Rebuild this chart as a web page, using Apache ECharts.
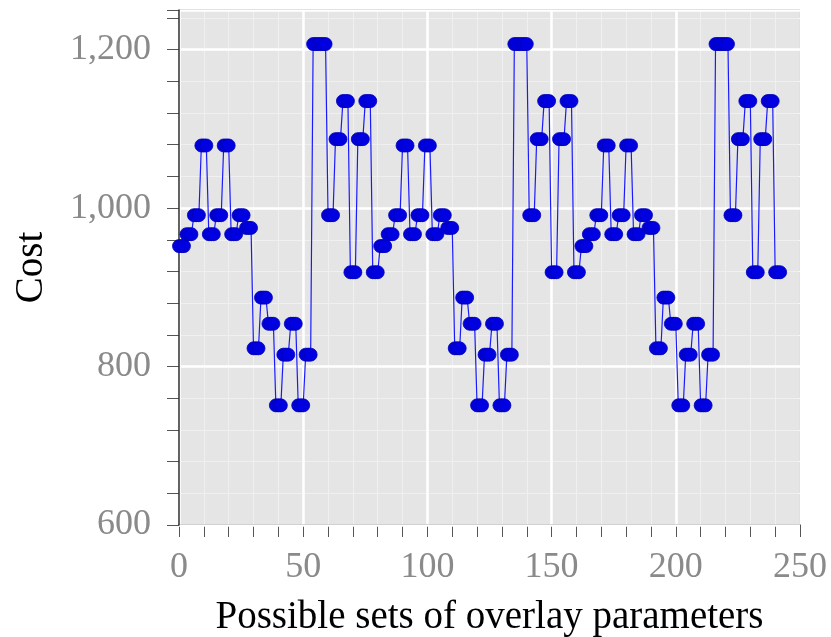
<!DOCTYPE html>
<html>
<head>
<meta charset="utf-8">
<script src="https://cdn.jsdelivr.net/npm/echarts@6/dist/echarts.min.js"></script>
<style>
  html, body { margin: 0; padding: 0; background: #fff; }
  #main { width: 831px; height: 637px; }
</style>
</head>
<body>
<div id="main"></div>
<script>
const chart = echarts.init(document.getElementById("main"));

// cost for each parameter set (3 periods of 81 sets)
const costA = [
    952, 952, 952, 967, 967, 967, 991, 991, 991, 1079, 1079, 1079, 967, 967, 967, 991, 991, 991, 1079, 1079, 1079, 967, 967, 967, 991, 991, 991,
    975, 975, 975, 823, 823, 823, 887, 887, 887, 854, 854, 854, 751, 751, 751, 815, 815, 815, 854, 854, 854, 751, 751, 751, 815, 815, 815,
    1207, 1207, 1207, 1207, 1207, 1207, 991, 991, 991, 1087, 1087, 1087, 1135, 1135, 1135, 919, 919, 919, 1087, 1087, 1087, 1135, 1135, 1135, 919, 919, 919
];
const costB = [
    952, 952, 952, 967, 967, 967, 991, 991, 991, 1079, 1079, 1079, 967, 967, 967, 991, 991, 991, 1079, 1079, 1079, 967, 967, 967, 991, 991, 991,
    975, 975, 975, 823, 823, 823, 887, 887, 887, 854, 854, 854, 751, 751, 751, 815, 815, 815, 854, 854, 854, 751, 751, 751, 815, 815, 815,
    1207, 1207, 1207, 1207, 1207, 1207, 991, 991, 991, 1087, 1087, 1087, 1135, 1135, 1135, 919, 919, 919, 1087, 1087, 1087, 1135, 1135, 1135, 919, 919, 919
];
const costC = [
    952, 952, 952, 967, 967, 967, 991, 991, 991, 1079, 1079, 1079, 967, 967, 967, 991, 991, 991, 1079, 1079, 1079, 967, 967, 967, 991, 991, 991,
    975, 975, 975, 823, 823, 823, 887, 887, 887, 854, 854, 854, 751, 751, 751, 815, 815, 815, 854, 854, 854, 751, 751, 751, 815, 815, 815,
    1207, 1207, 1207, 1207, 1207, 1207, 991, 991, 991, 1087, 1087, 1087, 1135, 1135, 1135, 919, 919, 919, 1087, 1087, 1087, 1135, 1135, 1135, 919, 919, 919
];
const yLabels = [600, 800, 1000, 1200];
const xLabels = [0, 50, 100, 150, 200, 250];

const cost = costA.concat(costB, costC);
const points = cost.map((v, i) => [i, v]);

const serif = "Liberation Serif";
const labelStyle = { color: "#8a8a8a", fontFamily: serif, fontSize: 36 };
const nameStyle = { color: "#000", fontFamily: serif, fontSize: 39 };

let option = {
    animation: false,
    grid: {
        left: 179, right: 31, top: 10, bottom: 112,
        outerBoundsMode: "none",
        show: true,
        backgroundColor: "#e5e5e5",
        borderColor: "#222",
        borderWidth: 1
    },
    xAxis: {
        type: "value",
        min: 0, max: 250, interval: 50,
        name: "Possible sets of overlay parameters",
        nameLocation: "middle",
        nameGap: 73,
        nameTextStyle: nameStyle,
        axisLine: { show: true, lineStyle: { color: "#333", width: 1.5 } },
        axisTick: { show: true, length: 12, lineStyle: { color: "#555" } },
        minorTick: { show: true, splitNumber: 5, length: 12, lineStyle: { color: "#555" } },
        axisLabel: Object.assign({
            margin: 25,
            formatter: v => xLabels.includes(v) ? String(v) : ""
        }, labelStyle),
        splitLine: { show: true, lineStyle: { color: "#fff", width: 2.5 } },
        minorSplitLine: { show: true, lineStyle: { color: "#f0f0f0", width: 1 } }
    },
    yAxis: [
        {
            type: "value",
            min: 600, max: 1250, interval: 200,
            z: 1,
            name: "Cost",
            nameLocation: "middle",
            nameGap: 128,
            nameTextStyle: nameStyle,
            axisLine: { show: true, lineStyle: { color: "#333", width: 1.5 } },
            axisTick: { show: false },
            axisLabel: Object.assign({
                margin: 28,
                formatter: v => yLabels.includes(v) ? v.toLocaleString("en-US") : ""
            }, labelStyle),
            splitLine: { show: true, lineStyle: { color: "#fff", width: 2.5 } }
        },
        {
            type: "value",
            min: 600, max: 1250, interval: 40,
            position: "left",
            z: 0,
            axisLine: { show: false },
            axisTick: { show: true, length: 12, lineStyle: { color: "#555" } },
            axisLabel: { show: false },
            splitLine: { show: true, lineStyle: { color: "#f0f0f0", width: 1 } }
        }
    ],
    series: [
        {
            type: "line",
            data: points,
            xAxisIndex: 0,
            yAxisIndex: 0,
            symbol: "circle",
            symbolSize: 13,
            showAllSymbol: true,
            lineStyle: { color: "#1a1aff", width: 1.2 },
            itemStyle: { color: "#0000e0", borderColor: "#0000b8", borderWidth: 0.8 },
            z: 5
        }
    ]
};
chart.setOption(option);
</script>
</body>
</html>
